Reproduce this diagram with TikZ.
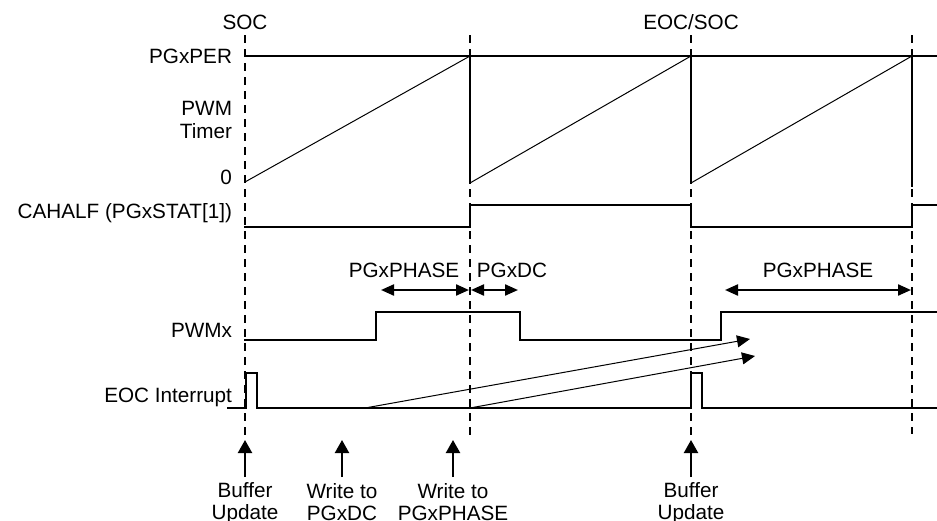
\documentclass[tikz,border=0pt]{standalone}
\usepackage{fontspec}
\setmainfont{Liberation Sans}
\usetikzlibrary{arrows.meta}
\tikzset{
  lbl/.style={font=\fontsize{20.7}{22}\selectfont, inner sep=0pt, outer sep=0pt},
  sig/.style={line width=2.2pt, line join=miter, line cap=rect},
  rampline/.style={line width=1pt},
  guide/.style={line width=2pt, dash pattern=on 8pt off 6pt},
  dimarrow/.style={line width=2.2pt, {Triangle[length=13pt,width=11pt]}-{Triangle[length=13pt,width=11pt]}},
  ptr/.style={line width=1pt, -{Triangle[length=13pt,width=12pt]}},
  uparrow/.style={line width=2.2pt, -{Triangle[length=13pt,width=14pt]}},
}
\begin{document}
\begin{tikzpicture}[x=1pt,y=-1pt]
\useasboundingbox (0,0) rectangle (937,520);

% ---- left labels ----
\node[lbl, anchor=base] (soc) at (245,29) {SOC};
\node[lbl, anchor=base] (eocsoc) at (691,29) {EOC/SOC};
\node[lbl, anchor=base east] (per) at (232,63) {PGxPER};
\node[lbl, anchor=base east] (pwm) at (232,115) {PWM};
\node[lbl, anchor=base east] (timer) at (232,138) {Timer};
\node[lbl, anchor=base east] (zero) at (232,184) {0};
\node[lbl, anchor=base east] (cahalf) at (232,218) {CAHALF (PGxSTAT[1])};
\node[lbl, anchor=base east] (pwmx) at (232,337) {PWMx};
\node[lbl, anchor=base east] (eoc) at (232,402) {EOC Interrupt};

% ---- timer ----
\coordinate (perA) at (245,56);
\coordinate (perB) at (937,56);
\draw[sig] (perA) -- (perB);
\coordinate (r0) at (245,182);
\coordinate (t1) at (470,56);
\coordinate (b1) at (470,183);
\coordinate (t2) at (691,56);
\coordinate (b2) at (691,183);
\coordinate (t3) at (912,56);
\coordinate (b3) at (912,186);
\draw[rampline] (r0) -- (t1);
\draw[rampline] (b1) -- (t2);
\draw[rampline] (b2) -- (t3);
\draw[sig] (t1) -- (b1);
\draw[sig] (t2) -- (b2);
\draw[sig] (t3) -- (b3);

% ---- CAHALF ----
\coordinate (c0) at (245,227);
\coordinate (cE) at (937,205);
\draw[sig] (c0) -- (470,227) -- (470,205) -- (691,205) -- (691,227) -- (912,227) -- (912,205) -- (cE);

% ---- PWMx ----
\coordinate (p0) at (245,340);
\coordinate (pE) at (937,312);
\draw[sig] (p0) -- (376,340) -- (376,312) -- (520,312) -- (520,340) -- (721,340) -- (721,312) -- (pE);

% ---- EOC interrupt ----
\coordinate (e0) at (228,408);
\coordinate (eE) at (937,408);
\draw[sig] (e0) -- (246,408) -- (246,373) -- (257,373) -- (257,408) -- (691,408) -- (691,373) -- (702,373) -- (702,408) -- (eE);

% ---- guide lines ----
\coordinate (g1t) at (245,35); \coordinate (g1b) at (245,437);
\coordinate (g2t) at (470,35); \coordinate (g2b) at (470,435);
\coordinate (g3t) at (691,35); \coordinate (g3b) at (691,437);
\coordinate (g4t) at (912,35); \coordinate (g4b) at (912,434);
\draw[guide] (g1t) -- (g1b);
\draw[guide] (g2t) -- (g2b);
\draw[guide] (g3t) -- (g3b);
\draw[guide] (g4t) -- (g4b);

% ---- dimension arrows ----
\node[lbl, anchor=base] (phL) at (404,277) {PGxPHASE};
\node[lbl, anchor=base] (dc) at (512,277) {PGxDC};
\node[lbl, anchor=base] (phR) at (818,277) {PGxPHASE};
\coordinate (d1a) at (381,290); \coordinate (d1b) at (469,290);
\coordinate (d2a) at (471,290); \coordinate (d2b) at (518,290);
\coordinate (d3a) at (725,290); \coordinate (d3b) at (911,290);
\draw[dimarrow] (d1a) -- (d1b);
\draw[dimarrow] (d2a) -- (d2b);
\draw[dimarrow] (d3a) -- (d3b);

% ---- diagonal pointers ----
\coordinate (w1) at (365,408); \coordinate (w1e) at (750,339);
\coordinate (w2) at (470,408); \coordinate (w2e) at (755,356);
\draw[ptr] (w1) -- (w1e);
\draw[ptr] (w2) -- (w2e);

% ---- bottom events ----
\node[lbl, anchor=north, align=center] (bu1) at (245,483) {Buffer\\Update};
\node[lbl, anchor=north, align=center] (wdc) at (342,483) {Write to\\PGxDC};
\node[lbl, anchor=north, align=center] (wph) at (453,483) {Write to\\PGxPHASE};
\node[lbl, anchor=north, align=center] (bu2) at (691,483) {Buffer\\Update};
\coordinate (a1s) at (245,477); \coordinate (a1e) at (245,440);
\coordinate (a2s) at (342,477); \coordinate (a2e) at (342,440);
\coordinate (a3s) at (453,477); \coordinate (a3e) at (453,440);
\coordinate (a4s) at (691,477); \coordinate (a4e) at (691,440);
\draw[uparrow] (a1s) -- (a1e);
\draw[uparrow] (a2s) -- (a2e);
\draw[uparrow] (a3s) -- (a3e);
\draw[uparrow] (a4s) -- (a4e);
\end{tikzpicture}
\end{document}
